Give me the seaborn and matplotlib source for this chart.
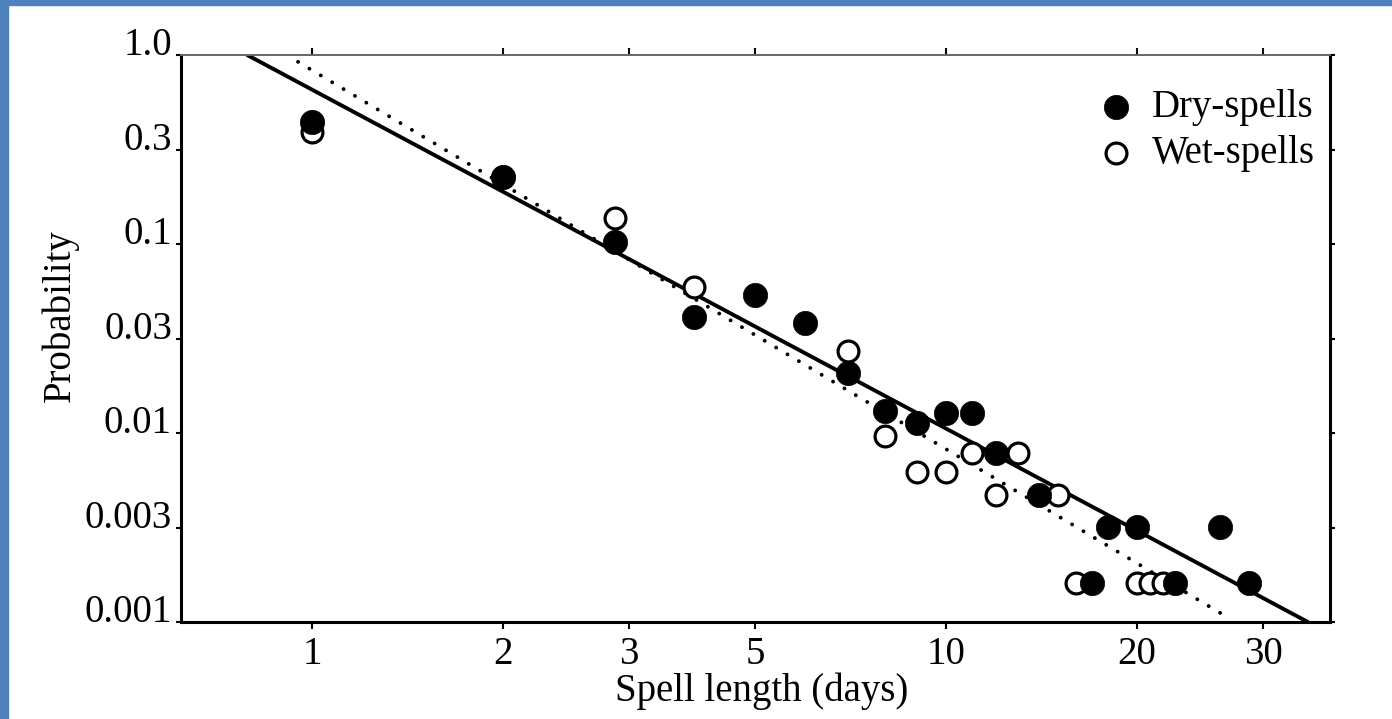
import matplotlib
matplotlib.use('Agg')
import matplotlib.pyplot as plt
import seaborn as sns
from matplotlib.patches import Rectangle

# Dry / wet spell probabilities
dry_days = [1, 2, 3, 4, 5, 6, 7, 8, 9, 10, 11, 12, 14, 17, 18, 20, 23, 27, 30]
dry_prob = [0.444, 0.225, 0.103, 0.041, 0.054, 0.038, 0.0207, 0.0130, 0.0113, 0.0128,
            0.0128, 0.0078, 0.0047, 0.0016, 0.0032, 0.0032, 0.0016, 0.0032, 0.0016]

wet_days = [1, 2, 3, 4, 7, 8, 9, 10, 11, 12, 13, 15, 16, 20, 21, 22]
wet_prob = [0.393, 0.225, 0.137, 0.059, 0.0273, 0.0096, 0.0062, 0.0062, 0.0078, 0.0047,
            0.0078, 0.0047, 0.0016, 0.0016, 0.0016, 0.0016]

# fitted power laws (end points)
solid_days = [0.79, 37.2]
solid_prob = [1.0, 0.001]
dotted_days = [0.95, 27.9]
dotted_prob = [0.92, 0.00105]

# the original puts "3" and "30" at half decades, like the y axis
x_ticks = [1, 2, 3.16, 5, 10, 20, 31.6]
x_tick_labels = ['1', '2', '3', '5', '10', '20', '30']
y_ticks = [1.0, 0.316, 0.1, 0.0316, 0.01, 0.00316, 0.001]
y_tick_labels = ['1.0', '0.3', '0.1', '0.03', '0.01', '0.003', '0.001']

sns.set_style('ticks')
plt.rcParams['font.family'] = ['Liberation Serif', 'DejaVu Serif']
plt.rcParams['font.size'] = 28
for key in ['text.color', 'axes.labelcolor', 'xtick.color', 'ytick.color']:
    plt.rcParams[key] = 'black'

fig = plt.figure(figsize=(13.92, 7.19), dpi=100)
ax = fig.add_axes([0.1300, 0.1349, 0.8254, 0.7886])
ax.set_xscale('log')
ax.set_yscale('log')

# fit lines
sns.lineplot(x=solid_days, y=solid_prob, ax=ax, color='black', lw=2.8, zorder=2)
sns.lineplot(x=dotted_days, y=dotted_prob, ax=ax, color='black', lw=2.8,
             linestyle=(0, (0.01, 3.4)), dash_capstyle='round', zorder=2)

# data points
sns.scatterplot(x=dry_days, y=dry_prob, ax=ax, color='black', edgecolor='black',
                s=17.5 ** 2, linewidth=0.5, label='Dry-spells', zorder=4)
sns.scatterplot(x=wet_days, y=wet_prob, ax=ax, color='white', edgecolor='black',
                s=15 ** 2, linewidth=2.3, label='Wet-spells', zorder=3)

ax.set_xlim(0.621, 40.3)
ax.set_ylim(0.001, 1.0)
ax.minorticks_off()
ax.set_xticks(x_ticks)
ax.set_xticklabels(x_tick_labels)
ax.set_yticks(y_ticks)
ax.set_yticklabels(y_tick_labels)
plt.setp(ax.get_yticklabels(), va='baseline')

ax.tick_params(axis='x', direction='out', length=5, width=1.5, pad=5,
               top=True, labeltop=False, colors='black')
ax.tick_params(axis='y', direction='out', length=3.6, width=1.5, pad=2.9,
               right=True, labelright=False, colors='black')

for side in ['left', 'bottom', 'right']:
    ax.spines[side].set_linewidth(2.2)
    ax.spines[side].set_color('black')
ax.spines['top'].set_linewidth(1.4)
ax.spines['top'].set_color('#666666')

ax.set_xlabel('Spell length (days)')
ax.xaxis.set_label_coords(0.5052, -0.0882)
ax.set_ylabel('Probability')
ax.yaxis.set_label_coords(-0.0888, 0.5397)

ax.legend(loc='upper right', bbox_to_anchor=(0.987, 0.94), frameon=False,
          handlelength=1.0, handletextpad=0.42, labelspacing=0.24,
          borderaxespad=0, borderpad=0, fontsize=28)

# blue frame of the scanned page (top and left edges)
fig.patches.append(Rectangle((0, 0), 8 / 1392, 1, transform=fig.transFigure,
                             color='#4F81BD', zorder=10))
fig.patches.append(Rectangle((0, 1 - 5 / 719), 1, 5 / 719, transform=fig.transFigure,
                             color='#4F81BD', zorder=10))

fig.savefig('out.png', dpi=100)
